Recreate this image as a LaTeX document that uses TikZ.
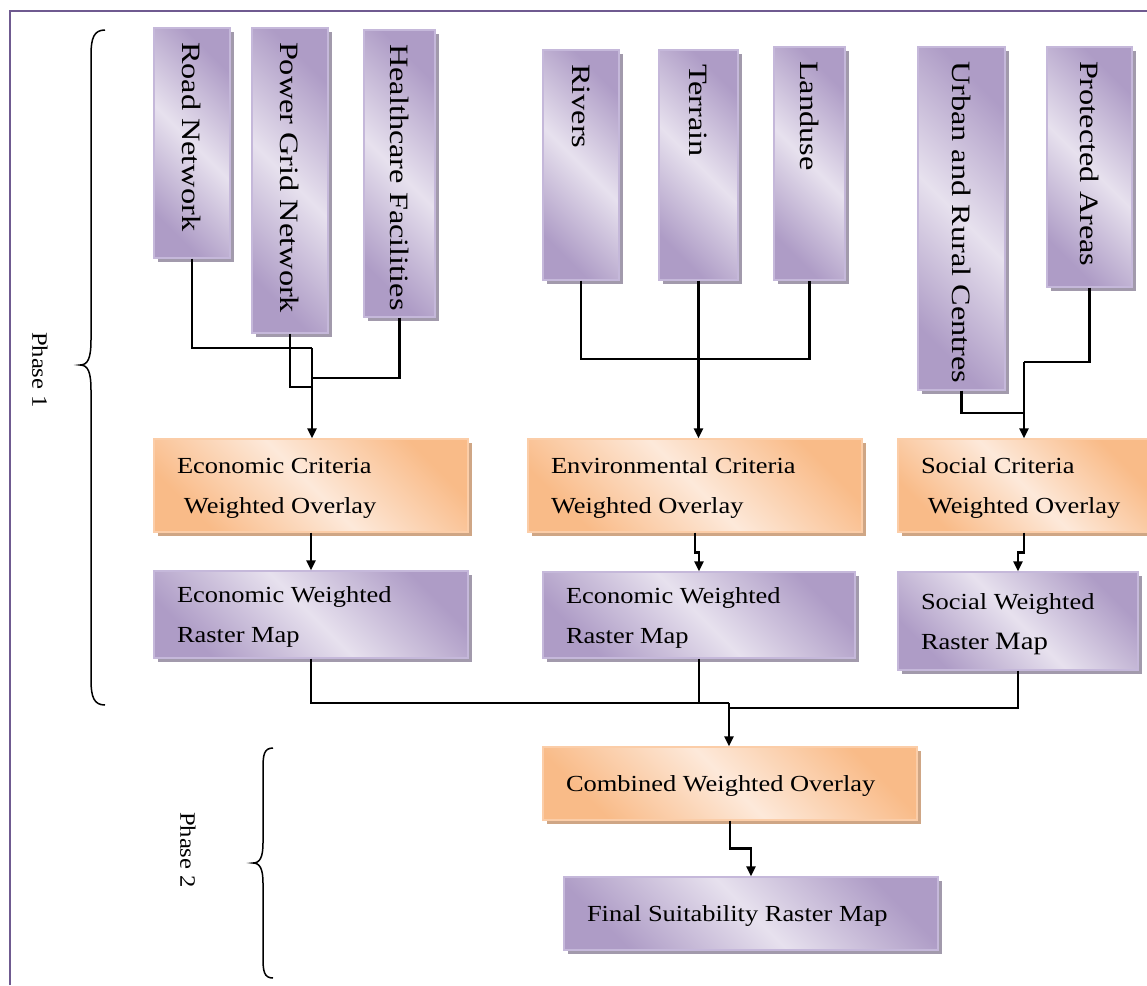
\documentclass[tikz,border=0pt]{standalone}
\usepackage{graphicx}
\usepackage{fontspec}
\setmainfont{Liberation Serif}
\usetikzlibrary{shadows,arrows.meta}
\definecolor{pdark}{HTML}{AE9CC6}
\definecolor{plight}{HTML}{E7E1EE}
\definecolor{pedge}{HTML}{C5B8DA}
\definecolor{pshadow}{HTML}{A29AAC}
\definecolor{odark}{HTML}{F9BB88}
\definecolor{olight}{HTML}{FDE9DA}
\definecolor{oedge}{HTML}{FBCDA8}
\definecolor{oshadow}{HTML}{CFA685}
\definecolor{framecol}{HTML}{6F5A90}
\newcommand\vfnt{\fontsize{26.5}{30}\selectfont}
\newcommand\hfnt{\fontsize{23}{40}\selectfont}
\newcommand\vlab[2]{\rotatebox{-90}{\makebox[\dimexpr#1pt-28pt\relax][l]{\vfnt\scalebox{1.22}[1]{#2}}}}
\newcommand\hlab[2]{\makebox[\dimexpr#1pt-46pt\relax][l]{\hfnt\scalebox{1.15}[1]{\begin{tabular}{@{}l@{}}#2\end{tabular}}}}
\tikzset{
  pbox/.style={draw=pedge, line width=1.2pt, top color=pdark, bottom color=pdark, middle color=plight, shading angle=-45,
    drop shadow={shadow xshift=4pt, shadow yshift=-4pt, fill=pshadow, opacity=1}, inner sep=0pt},
  obox/.style={draw=oedge, line width=1.2pt, top color=odark, bottom color=odark, middle color=olight, shading angle=-45,
    drop shadow={shadow xshift=4pt, shadow yshift=-4pt, fill=oshadow, opacity=1}, inner sep=0pt},
  conn/.style={draw=black, line width=2.3pt},
  arr/.style={conn, -{Triangle[length=10pt,width=9pt]}},
  bracecurve/.style={draw=black, line width=1.5pt},
  phase/.style={rotate=-90, font=\fontsize{22}{26}\selectfont, inner sep=0pt}
}
\begin{document}
\begin{tikzpicture}[x=1pt,y=-1pt]
\useasboundingbox (0,0) rectangle (1147,985);
\fill[white] (0,0) rectangle (1147,985);
% frame
\draw[framecol, line width=2.8pt] (10,985) -- (10,11) -- (1147,11);

% input layers
\node[pbox, minimum width=76pt, minimum height=230pt] (road) at (192,143) {\vlab{230}{Road Network}};
\node[pbox, minimum width=76pt, minimum height=305pt] (power) at (290,180.5) {\vlab{305}{Power Grid Network}};
\node[pbox, minimum width=71pt, minimum height=287pt] (health) at (399.5,173.5) {\vlab{287}{Healthcare Facilities}};
\node[pbox, minimum width=76pt, minimum height=230pt] (rivers) at (581,165) {\vlab{230}{Rivers}};
\node[pbox, minimum width=79pt, minimum height=230pt] (terrain) at (698.5,165) {\vlab{230}{Terrain}};
\node[pbox, minimum width=71pt, minimum height=233pt] (landuse) at (809.5,163.5) {\vlab{233}{Landuse}};
\node[pbox, minimum width=87pt, minimum height=343pt] (urban) at (961.5,218.5) {\vlab{343}{Urban and Rural Centres}};
\node[pbox, minimum width=85pt, minimum height=240pt] (protected) at (1089.5,167) {\vlab{240}{Protected Areas}};

% criteria overlays
\node[obox, minimum width=314pt, minimum height=93pt] (ecrit) at (311,485.5) {\hlab{314}{Economic Criteria\\\hspace{6pt}Weighted Overlay}};
\node[obox, minimum width=334pt, minimum height=93pt] (envcrit) at (695,485.5) {\hlab{334}{Environmental Criteria\\Weighted Overlay}};
\node[obox, minimum width=252pt, minimum height=93pt] (scrit) at (1024,485.5) {\hlab{252}{Social Criteria\\\hspace{6pt}Weighted Overlay}};

% weighted rasters
\node[pbox, minimum width=314pt, minimum height=87pt] (ew) at (311,614.5) {\hlab{314}{Economic Weighted\\Raster Map}};
\node[pbox, minimum width=312pt, minimum height=86pt] (envw) at (699,615) {\hlab{312}{Economic Weighted\\Raster Map}};
\node[pbox, minimum width=240pt, minimum height=98pt] (sw) at (1018,621) {\hlab{240}{Social Weighted\\Raster {\fontsize{25}{40}\selectfont Map}}};

% phase 2
\node[obox, minimum width=374pt, minimum height=73pt] (comb) at (730,783.5) {\hlab{374}{Combined Weighted Overlay}};
\node[pbox, minimum width=374pt, minimum height=73pt] (final) at (751,913.5) {\hlab{374}{Final Suitability Raster Map}};

% economic connectors
\coordinate (ej) at (312,348);
\coordinate (ej2) at (312,387);
\coordinate (ej3) at (312,378);
\draw[conn] (road.south) |- (ej);
\draw[conn] (power.south) |- (ej2);
\draw[conn] (health.south) |- (ej3);
\draw[arr] (ej) -- (ej |- ecrit.north);

% environmental connectors
\coordinate (vj) at (698.5,359);
\draw[conn] (rivers.south) |- (vj) -| (landuse.south);
\draw[conn] (terrain.south) -- (vj);
\draw[arr] (vj) -- (vj |- envcrit.north);

% social connectors
\coordinate (sj) at (1024,362);
\coordinate (sj2) at (1024,413);
\draw[conn] (protected.south) |- (sj);
\draw[conn] (urban.south) |- (sj2);
\draw[arr] (sj) -- (sj |- scrit.north);

% criteria to rasters
\draw[arr] (ecrit.south) -- (ew.north);
\draw[arr] (envcrit.south) -- ++(0,20) -| (envw.north);
\draw[arr] (scrit.south) -- ++(0,20) -| (sw.north);

% merge
\coordinate (mj) at (729,703);
\coordinate (mj2) at (729,708);
\draw[conn] (ew.south) |- (mj);
\draw[conn] (envw.south) -- (envw.south |- mj);
\draw[conn] (sw.south) |- (mj2);
\draw[arr] (mj) -- (mj |- comb.north);
\draw[arr] (comb.south) -- ++(0,28) -| (final.north);

% braces
\draw[bracecurve] (105,30) .. controls (94,30) and (91,38) .. (91,55) -- (91,340)
  .. controls (91,358) and (88,365) .. (80,365) .. controls (88,365) and (91,372) .. (91,390)
  -- (91,680) .. controls (91,697) and (94,705) .. (105,705);
\draw[bracecurve] (273,748) .. controls (264,748) and (263,755) .. (263,768) -- (263,843)
  .. controls (263,857) and (260,863) .. (253,863) .. controls (260,863) and (263,869) .. (263,883)
  -- (263,958) .. controls (263,971) and (264,978) .. (273,978);
\node[phase] (p1) at (40,370) {\scalebox{1.12}[1]{Phase 1}};
\node[phase] (p2) at (188,850) {\scalebox{1.12}[1]{Phase 2}};
\end{tikzpicture}
\end{document}
